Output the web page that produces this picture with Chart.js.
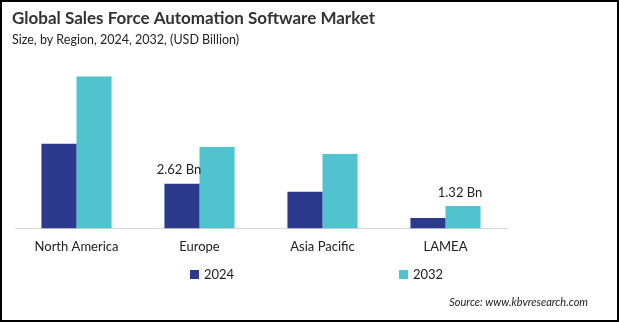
<!DOCTYPE html>
<html>
<head>
<meta charset="utf-8">
<script src="https://cdn.jsdelivr.net/npm/chart.js@4.4.1/dist/chart.umd.min.js"></script>
<style>
  html, body { margin: 0; padding: 0; background: #fff; }
  #wrap { width: 619px; height: 322px; position: relative; }
</style>
</head>
<body>
<div id="wrap"><canvas id="chart" width="619" height="322"></canvas></div>
<script>
//Categories and series values (USD Billion)
const regions = ["North America", "Europe", "Asia Pacific", "LAMEA"];
const years = ["2024", "2032"];
const values2024 = [4.97, 2.62, 2.15, 0.61];
const values2032 = [8.91, 4.78, 4.36, 1.32];
//which bars carry a value label: [datasetIndex, dataIndex]
const labelled = [[0, 1], [1, 3]];

const barColors = ["#2c3a8e", "#50c3cf"];
const FONT = "Lato, 'Open Sans', sans-serif";

//Draws the frame, title, legend, source and value labels
const decorations = {
  id: "decorations",
  afterDraw(chart) {
    const ctx = chart.ctx;
    ctx.save();
    //frame
    ctx.strokeStyle = "#000";
    ctx.lineWidth = 2;
    ctx.strokeRect(1, 1, chart.width - 2, chart.height - 2);
    //title + subtitle
    ctx.textAlign = "left";
    ctx.textBaseline = "middle";
    ctx.fillStyle = "#333";
    ctx.font = "bold 17px " + FONT;
    ctx.fillText("Global Sales Force Automation Software Market", 12, 19);
    ctx.font = "12.5px " + FONT;
    ctx.fillStyle = "#222";
    ctx.fillText("Size, by Region, 2024, 2032, (USD Billion)", 12, 40);
    //value labels
    ctx.font = "13px " + FONT;
    ctx.textAlign = "center";
    ctx.textBaseline = "bottom";
    ctx.fillStyle = "#222";
    labelled.forEach(([ds, i]) => {
      const bar = chart.getDatasetMeta(ds).data[i];
      const v = chart.data.datasets[ds].data[i];
      ctx.fillText(v.toFixed(2) + " Bn", bar.x - 3, bar.y - 7);
    });
    //legend
    const legendX = [190, 399];
    ctx.textAlign = "left";
    ctx.textBaseline = "middle";
    ctx.font = "13px " + FONT;
    chart.data.datasets.forEach((d, k) => {
      ctx.fillStyle = d.backgroundColor;
      ctx.fillRect(legendX[k], 270, 9, 9);
      ctx.fillStyle = "#222";
      ctx.fillText(d.label, legendX[k] + 14, 275);
    });
    //source
    ctx.font = "italic 11px " + FONT;
    ctx.textAlign = "right";
    ctx.fillStyle = "#222";
    ctx.fillText("Source: www.kbvresearch.com", 588, 302);
    ctx.restore();
  },
};

new Chart(document.getElementById("chart"), {
  type: "bar",
  plugins: [decorations],
  data: {
    labels: regions,
    datasets: [
      { label: years[0], data: values2024, backgroundColor: barColors[0] },
      { label: years[1], data: values2032, backgroundColor: barColors[1] },
    ],
  },
  options: {
    responsive: false,
    animation: false,
    layout: { padding: { left: 15, right: 112, top: 58, bottom: 64 } },
    datasets: { bar: { categoryPercentage: 0.57, barPercentage: 1 } },
    plugins: {
      legend: { display: false },
      tooltip: { enabled: false },
    },
    scales: {
      x: {
        grid: { display: false },
        border: { display: true, color: "#d9d9d9", width: 1 },
        ticks: { color: "#222", font: { family: FONT, size: 13 }, padding: 3 },
      },
      y: {
        display: false,
        min: 0,
        max: 10,
      },
    },
  },
});
</script>
</body>
</html>
